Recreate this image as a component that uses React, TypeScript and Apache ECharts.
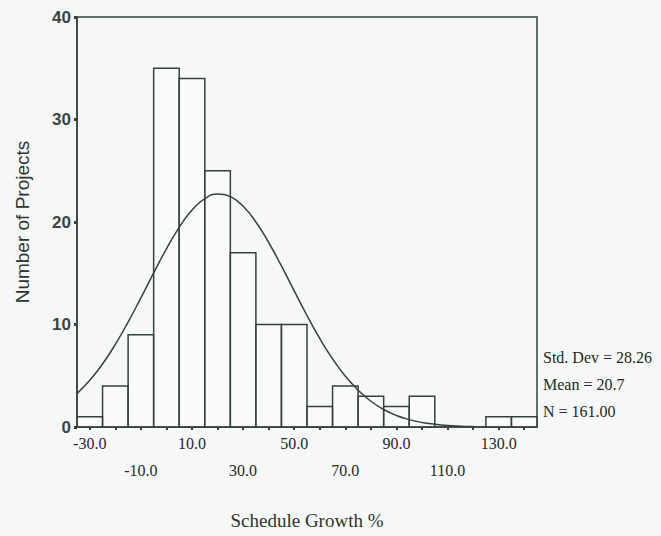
import React, { useEffect, useRef } from "react";
import * as echarts from "echarts";

const binCenters = [-30, -20, -10, 0, 10, 20, 30, 40, 50, 60, 70, 80, 90, 100, 110, 120, 130, 140];
const binCounts = [1, 4, 9, 35, 34, 25, 17, 10, 10, 2, 4, 3, 2, 3, 0, 0, 1, 1];
const curveX = [-35, -30, -25, -20, -15, -10, -5, 0, 5, 10, 15, 20, 25, 30, 35, 40, 45, 50, 55, 60, 65, 70, 75, 80, 85, 90, 95, 100, 105, 110, 115, 120];
const curveY = [3.26, 4.55, 6.15, 8.06, 10.24, 12.6, 15.03, 17.38, 19.48, 21.16, 22.27, 22.72, 22.47, 21.53, 20.0, 18.0, 15.71, 13.28, 10.88, 8.64, 6.65, 4.96, 3.59, 2.51, 1.71, 1.12, 0.72, 0.44, 0.27, 0.15, 0.08, 0.04];
const xLabelsRow1 = [-30, 10, 50, 90, 130];
const xLabelsRow2 = [-10, 30, 70, 110];
const yTicks = [0, 10, 20, 30, 40];
const statLines = ["Std. Dev = 28.26", "Mean = 20.7", "N = 161.00"];

const INK = "#34423d";
const SERIF = "'Liberation Serif', 'DejaVu Serif', serif";
const SANS = "'Liberation Sans', Arial, sans-serif";

export default function App() {
  const ref = useRef<HTMLDivElement>(null);
  useEffect(() => {
    document.body.style.margin = "0";
    const chart = echarts.init(ref.current!, null, { renderer: "svg" });
    const xMin = -35;
    const xMax = 145;
    chart.setOption({
      animation: false,
      backgroundColor: "#f6f7f7",
      grid: {
        left: 77,
        top: 17,
        width: 460,
        height: 410,
        show: true,
        borderColor: INK,
        borderWidth: 1.5,
        containLabel: false,
        outerBoundsMode: "none",
      },
      xAxis: [
        {
          type: "value",
          min: xMin,
          max: xMax,
          position: "bottom",
          name: "Schedule Growth %",
          nameLocation: "middle",
          nameGap: 84,
          nameTextStyle: { fontFamily: SERIF, fontSize: 19, color: "#2c3532" },
          axisLine: { show: true, onZero: false, lineStyle: { color: INK, width: 1.5 } },
          axisTick: {
            show: true,
            customValues: binCenters,
            length: 3,
            lineStyle: { color: INK, width: 2 },
          },
          axisLabel: {
            customValues: xLabelsRow1,
            formatter: (v: number) => v.toFixed(1),
            margin: 8,
            fontFamily: SERIF,
            fontSize: 16,
            color: "#222a27",
          },
          splitLine: { show: false },
        },
        {
          type: "value",
          min: xMin,
          max: xMax,
          position: "bottom",
          gridIndex: 0,
          axisLine: { show: false, onZero: false },
          axisTick: { show: false },
          axisLabel: {
            customValues: xLabelsRow2,
            formatter: (v: number) => v.toFixed(1),
            margin: 35,
            fontFamily: SERIF,
            fontSize: 16,
            color: "#222a27",
          },
          splitLine: { show: false },
        },
      ],
      yAxis: {
        type: "value",
        min: 0,
        max: 40,
        interval: 10,
        name: "Number of Projects",
        nameLocation: "middle",
        nameGap: 45,
        nameTextStyle: { fontFamily: SANS, fontSize: 19, color: "#2c3532" },
        axisLine: { show: true, onZero: false, lineStyle: { color: INK, width: 1.5 } },
        axisTick: { show: true, customValues: yTicks, length: 3, lineStyle: { color: INK, width: 3 } },
        axisLabel: { fontFamily: SANS, fontSize: 17, fontWeight: "bold", color: "#3a4541", margin: 6 },
        splitLine: { show: false },
      },
      series: [
        {
          type: "custom",
          xAxisIndex: 0,
          data: binCenters.map((c, i) => [c, binCounts[i]]),
          renderItem: (params: any, api: any) => {
            const c = api.value(0);
            const v = api.value(1);
            if (!v) return null;
            const p0 = api.coord([c - 5, v]);
            const p1 = api.coord([c + 5, 0]);
            return {
              type: "rect",
              shape: { x: p0[0], y: p0[1], width: p1[0] - p0[0], height: p1[1] - p0[1] },
              style: { fill: "rgba(255,255,255,0.35)", stroke: INK, lineWidth: 1.5 },
            };
          },
          z: 2,
        },
        {
          type: "line",
          xAxisIndex: 0,
          smooth: true,
          showSymbol: false,
          data: curveX.map((x, i) => [x, curveY[i]]),
          lineStyle: { color: INK, width: 1.5 },
          z: 3,
        },
      ],
      graphic: statLines.map((t, i) => ({
        type: "text",
        left: 543,
        top: 349 + i * 27,
        style: { text: t, fontFamily: SERIF, fontSize: 16, fill: "#222a27" },
      })),
    });
    return () => chart.dispose();
  }, []);
  return <div ref={ref} style={{ width: 661, height: 536 }} />;
}
